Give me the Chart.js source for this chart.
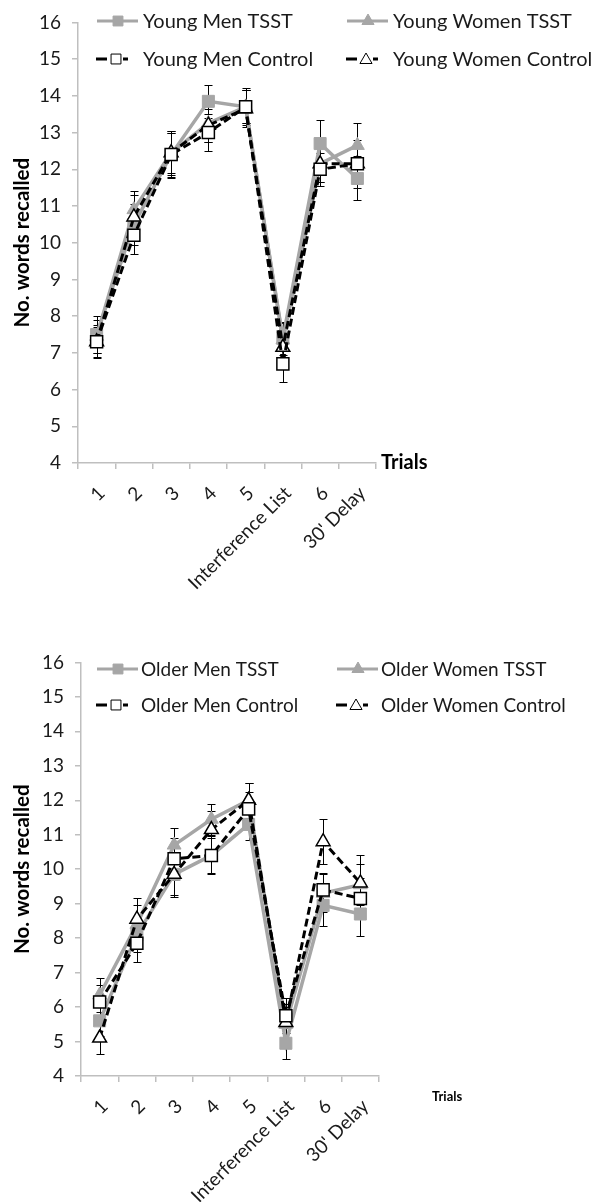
<!DOCTYPE html>
<html>
<head>
<meta charset="utf-8">
<script src="https://cdn.jsdelivr.net/npm/chart.js@4.4.1/dist/chart.umd.min.js"></script>
<style>
  html, body { margin: 0; padding: 0; background: #fff; width: 594px; height: 1202px; overflow: hidden; }
  .panel { position: absolute; left: 0; width: 594px; }
  #young { top: 0; height: 610px; }
  #older { top: 640px; height: 562px; }
</style>
</head>
<body>
<div class="panel" id="young"><canvas id="youngChart" width="594" height="610"></canvas></div>
<div class="panel" id="older"><canvas id="olderChart" width="594" height="562"></canvas></div>
<script>
// Recall trials
const trials = ['1', '2', '3', '4', '5', 'Interference List', '6', "30' Delay"];

// Young participants: mean words recalled
const youngMenTSST      = [7.5, 10.5, 12.4, 13.85, 13.7, 7.4, 12.7, 11.75];
const youngWomenTSST    = [7.45, 10.9, 12.45, 13.25, 13.7, 7.35, 12.15, 12.65];
const youngMenControl   = [7.3, 10.2, 12.4, 13.0, 13.7, 6.7, 12.0, 12.15];
const youngWomenControl = [7.3, 10.7, 12.45, 13.2, 13.65, 7.15, 12.15, 12.15];

// Young participants: standard errors
const youngMenTSSTErr      = [0.5, 0.55, 0.65, 0.45, 0.5, 0.45, 0.65, 0.6];
const youngWomenTSSTErr    = [0.45, 0.5, 0.6, 0.5, 0.45, 0.45, 0.5, 0.6];
const youngMenControlErr   = [0.4, 0.5, 0.6, 0.5, 0.45, 0.5, 0.45, 0.5];
const youngWomenControlErr = [0.45, 0.6, 0.55, 0.45, 0.5, 0.5, 0.5, 0.65];

// Older participants: mean words recalled
const olderMenTSST      = [5.6, 8.1, 9.85, 10.4, 11.3, 4.95, 8.95, 8.7];
const olderWomenTSST    = [6.35, 8.4, 10.7, 11.45, 12.0, 5.5, 9.3, 9.55];
const olderMenControl   = [6.15, 7.85, 10.3, 10.4, 11.75, 5.75, 9.4, 9.15];
const olderWomenControl = [5.1, 8.55, 9.85, 11.15, 12.0, 5.55, 10.8, 9.6];

// Older participants: standard errors
const olderMenTSSTErr      = [0.45, 0.5, 0.6, 0.5, 0.45, 0.45, 0.6, 0.65];
const olderWomenTSSTErr    = [0.5, 0.55, 0.5, 0.45, 0.5, 0.5, 0.55, 0.6];
const olderMenControlErr   = [0.5, 0.55, 0.6, 0.55, 0.5, 0.5, 0.5, 0.6];
const olderWomenControlErr = [0.45, 0.6, 0.65, 0.55, 0.5, 0.55, 0.65, 0.8];

// Axis range
const yMin = 4, yMax = 16, yStep = 1;

const GREY = '#a6a6a6';
const AXIS = '#bfbfbf';
const TEXT = '#1a1a1a';
const FONT = 'Lato, "Open Sans", sans-serif';

function series(label, data, err, group, shape) {
  const tsst = group === 'tsst';
  return {
    label, data, err, group,
    borderColor: tsst ? GREY : '#000',
    borderWidth: tsst ? 3.5 : 3,
    borderDash: tsst ? [] : [8, 4],
    pointStyle: shape,
    pointRadius: shape === 'rect' ? 8.5 : 8,
    pointBackgroundColor: tsst ? GREY : '#fff',
    pointBorderColor: tsst ? GREY : '#000',
    pointBorderWidth: tsst ? 1 : 1.5,
    tension: 0,
    fill: false,
    order: tsst ? 2 : 1
  };
}

// Standard-error whiskers, drawn under the lines and markers
const errorBars = {
  id: 'errorBars',
  beforeDatasetsDraw(chart) {
    const ctx = chart.ctx, y = chart.scales.y;
    ctx.save();
    ctx.strokeStyle = '#000';
    ctx.lineWidth = 1;
    chart.data.datasets.forEach((ds, i) => {
      const meta = chart.getDatasetMeta(i);
      meta.data.forEach((pt, j) => {
        const v = ds.data[j], e = ds.err[j];
        const top = Math.round(y.getPixelForValue(v + e)) + 0.5;
        const bot = Math.round(y.getPixelForValue(v - e)) + 0.5;
        const x = Math.round(pt.x) + 0.5;
        ctx.beginPath();
        ctx.moveTo(x, top); ctx.lineTo(x, bot);
        ctx.moveTo(x - 4, top); ctx.lineTo(x + 4, top);
        ctx.moveTo(x - 4, bot); ctx.lineTo(x + 4, bot);
        ctx.stroke();
      });
    });
    ctx.restore();
  }
};

function drawMarker(ctx, shape, x, y, r, fillC, strokeC, lw) {
  ctx.save();
  ctx.fillStyle = fillC; ctx.strokeStyle = strokeC; ctx.lineWidth = lw;
  ctx.beginPath();
  if (shape === 'rect') {
    const s = r * Math.SQRT1_2;
    ctx.rect(x - s, y - s, 2 * s, 2 * s);
  } else {
    ctx.moveTo(x, y - r);
    ctx.lineTo(x + r * 0.866, y + r * 0.5);
    ctx.lineTo(x - r * 0.866, y + r * 0.5);
    ctx.closePath();
  }
  ctx.fill(); ctx.stroke();
  ctx.restore();
}

// Two-column legend with line samples, plus the "Trials" axis caption
const panelDecor = {
  id: 'panelDecor',
  afterDraw(chart, args, opts) {
    const ctx = chart.ctx;
    ctx.save();
    ctx.font = opts.legendSize + 'px ' + FONT;
    ctx.fillStyle = TEXT;
    ctx.textBaseline = 'middle';
    chart.data.datasets.forEach((ds, i) => {
      const col = i % 2, row = ds.group === 'tsst' ? 0 : 1;
      const x0 = opts.cols[col], y0 = opts.rows[row];
      if (ds.group === 'tsst') {
        ctx.strokeStyle = GREY; ctx.lineWidth = 3; ctx.setLineDash([]);
        ctx.beginPath(); ctx.moveTo(x0, y0); ctx.lineTo(x0 + 41, y0); ctx.stroke();
        drawMarker(ctx, ds.pointStyle, x0 + 21, y0, 7, GREY, GREY, 1);
      } else {
        ctx.strokeStyle = '#000'; ctx.lineWidth = 3; ctx.setLineDash([]);
        ctx.beginPath();
        ctx.moveTo(x0 - 1, y0); ctx.lineTo(x0 + 10, y0);
        ctx.moveTo(x0 + 26, y0); ctx.lineTo(x0 + 31, y0);
        ctx.stroke();
        drawMarker(ctx, ds.pointStyle, x0 + 19, y0 + (ds.pointStyle === 'rect' ? 0 : 1), 7, '#fff', '#000', 1);
      }
      ctx.fillStyle = TEXT;
      ctx.fillText(ds.label, x0 + opts.textGap, y0 + 1);
    });
    ctx.font = 'bold ' + opts.trials.size + 'px ' + FONT;
    ctx.fillStyle = '#000';
    ctx.fillText('Trials', opts.trials.x, opts.trials.y);
    ctx.restore();
  }
};

function makePanel(canvasId, datasets, box, decor) {
  const canvas = document.getElementById(canvasId);
  const H = canvas.height;
  return new Chart(canvas, {
    type: 'line',
    data: { labels: trials, datasets },
    options: {
      responsive: false,
      animation: false,
      layout: { padding: { top: box.top, right: 594 - box.right, left: 0, bottom: 0 } },
      plugins: { legend: { display: false }, tooltip: { enabled: false }, panelDecor: decor },
      scales: {
        x: {
          type: 'category',
          offset: true,
          afterFit(scale) { scale.height = H - box.bottom; },
          grid: { offset: true, drawOnChartArea: false, drawTicks: true, tickLength: 6, color: AXIS, lineWidth: 1.5 },
          border: { display: true, color: AXIS, width: 1.5 },
          ticks: { autoSkip: false, minRotation: 45, maxRotation: 45, padding: 13, labelOffset: 5, color: TEXT, font: { family: FONT, size: 19 } }
        },
        y: {
          min: yMin, max: yMax,
          afterFit(scale) { scale.width = box.left; },
          grid: { drawOnChartArea: false, drawTicks: true, tickLength: 6, color: AXIS, lineWidth: 1.5 },
          border: { display: true, color: AXIS, width: 1.5 },
          ticks: { stepSize: yStep, padding: 11, color: TEXT, font: { family: FONT, size: 19 } },
          title: { display: true, text: 'No. words recalled', color: '#000', padding: { top: 10, bottom: 0 }, font: { family: FONT, size: 20.5, weight: 'bold' } }
        }
      }
    },
    plugins: [errorBars, panelDecor]
  });
}

makePanel('youngChart', [
  series('Young Men TSST', youngMenTSST, youngMenTSSTErr, 'tsst', 'rect'),
  series('Young Women TSST', youngWomenTSST, youngWomenTSSTErr, 'tsst', 'triangle'),
  series('Young Men Control', youngMenControl, youngMenControlErr, 'ctrl', 'rect'),
  series('Young Women Control', youngWomenControl, youngWomenControlErr, 'ctrl', 'triangle')
], { left: 78, right: 376, top: 14, bottom: 463 },
{ cols: [97, 347], rows: [21, 59], textGap: 46, legendSize: 20, trials: { x: 381, y: 463, size: 20 } });

makePanel('olderChart', [
  series('Older Men TSST', olderMenTSST, olderMenTSSTErr, 'tsst', 'rect'),
  series('Older Women TSST', olderWomenTSST, olderWomenTSSTErr, 'tsst', 'triangle'),
  series('Older Men Control', olderMenControl, olderMenControlErr, 'ctrl', 'rect'),
  series('Older Women Control', olderWomenControl, olderWomenControlErr, 'ctrl', 'triangle')
], { left: 81, right: 379, top: 21, bottom: 436 },
{ cols: [97, 337], rows: [29, 65], textGap: 44, legendSize: 19, trials: { x: 432, y: 457, size: 13 } });
</script>
</body>
</html>
